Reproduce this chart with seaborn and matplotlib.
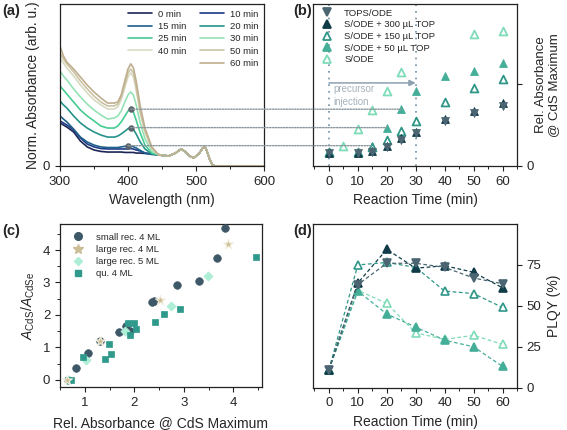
import numpy as np
import pandas as pd
import matplotlib.pyplot as plt
import seaborn as sns
from matplotlib.patches import ConnectionPatch
from matplotlib.ticker import MultipleLocator
from matplotlib.lines import Line2D

sns.set_style('ticks')
plt.rcParams['font.family'] = ['Liberation Sans', 'DejaVu Sans']
plt.rcParams['mathtext.fontset'] = 'custom'
plt.rcParams['mathtext.rm'] = 'Liberation Sans'
plt.rcParams['mathtext.it'] = 'Liberation Sans:italic'

# ---------------- data: (a) absorption spectra ----------------
wl_uv = [300, 305, 310, 320, 330, 340, 350, 360, 370, 380, 385, 390, 396, 400, 404, 408, 412, 418, 425, 435, 445]
wl_tail = [452, 460, 470, 478, 485, 490, 497, 505, 510, 513, 516, 520, 524, 528, 600]
cdse_tail = [0.51, 0.49, 0.63, 0.83, 0.68, 0.49, 0.39, 0.63, 0.88, 0.94, 0.73, 0.34, 0.05, 0.0, 0.0]

abs_0 = [2.10, 2.00, 1.90, 1.66, 1.22, 0.93, 0.78, 0.71, 0.68, 0.68, 0.68, 0.68, 0.66, 0.66, 0.66, 0.66, 0.63, 0.63, 0.61, 0.59, 0.56]
abs_10 = [2.20, 2.10, 2.00, 1.76, 1.37, 1.07, 0.93, 0.85, 0.83, 0.83, 0.83, 0.83, 0.83, 0.83, 0.85, 0.83, 0.78, 0.73, 0.63, 0.59, 0.54]
abs_15 = [2.44, 2.29, 2.15, 1.80, 1.41, 1.17, 1.02, 0.93, 0.90, 0.90, 0.90, 0.93, 0.96, 0.98, 0.98, 0.94, 0.88, 0.76, 0.63, 0.56, 0.54]
abs_20 = [3.17, 2.98, 2.83, 2.44, 2.10, 1.85, 1.66, 1.51, 1.41, 1.41, 1.46, 1.56, 1.71, 1.82, 1.86, 1.78, 1.56, 1.17, 0.83, 0.59, 0.54]
abs_25 = [3.90, 3.71, 3.51, 3.12, 2.73, 2.44, 2.20, 1.95, 1.85, 1.85, 1.95, 2.15, 2.46, 2.68, 2.76, 2.62, 2.24, 1.61, 1.02, 0.63, 0.54]
abs_30 = [4.63, 4.39, 4.20, 3.76, 3.37, 3.02, 2.73, 2.49, 2.29, 2.34, 2.44, 2.68, 3.17, 3.46, 3.61, 3.46, 2.98, 2.10, 1.32, 0.73, 0.54]
abs_40 = [5.27, 5.02, 4.78, 4.39, 3.95, 3.56, 3.22, 2.98, 2.78, 2.78, 2.88, 3.22, 3.90, 4.34, 4.54, 4.34, 3.71, 2.59, 1.61, 0.83, 0.54]
abs_50 = [5.51, 5.22, 4.98, 4.59, 4.15, 3.76, 3.41, 3.12, 2.93, 2.93, 3.02, 3.37, 4.05, 4.54, 4.73, 4.54, 3.85, 2.68, 1.71, 0.88, 0.54]
abs_60 = [5.85, 5.37, 5.07, 4.73, 4.34, 3.95, 3.61, 3.32, 3.07, 3.07, 3.12, 3.46, 4.24, 4.73, 4.98, 4.78, 4.15, 2.93, 1.85, 0.93, 0.54]

spec_labels = ['0 min', '10 min', '15 min', '20 min', '25 min', '30 min', '40 min', '50 min', '60 min']
spec_colors = ['#1b2455', '#1d3a86', '#1f5f8c', '#25938a', '#45cc93', '#95e2b4', '#d8dbc2', '#cbc3a4', '#bfae8e']
spectra = [abs_0, abs_10, abs_15, abs_20, abs_25, abs_30, abs_40, abs_50, abs_60]

# ---------------- data: (b) rel. absorbance vs time ----------------
t_sode = [0, 5, 10, 15, 20, 25, 50, 60]
rel_sode = [0.67, 0.98, 1.80, 2.72, 3.67, 4.60, 6.44, 6.57]
t_top = [0, 10, 15, 20, 25, 30, 40, 50, 60]
rel_top50 = [0.67, 0.67, 0.99, 1.87, 2.77, 3.67, 4.38, 4.63, 5.01]
rel_top150 = [0.67, 0.67, 0.94, 1.27, 1.71, 2.21, 3.12, 3.79, 4.26]
rel_top300 = [0.62, 0.62, 0.75, 0.99, 1.35, 1.66, 2.28, 2.68, 3.06]
rel_tops = [0.62, 0.62, 0.70, 0.94, 1.27, 1.60, 2.21, 2.57, 2.93]

# ---------------- data: (c) A_CdS/A_CdSe ----------------
small4_x = [0.66, 0.82, 1.06, 1.30, 1.69, 1.83, 1.91, 2.35, 2.40, 2.86, 3.31, 3.67, 3.83]
small4_y = [0.00, 0.37, 0.84, 1.20, 1.47, 1.65, 1.52, 2.39, 2.42, 2.92, 3.06, 3.76, 4.68]
large4_x = [0.65, 1.30, 2.52, 3.90]
large4_y = [0.00, 1.20, 2.46, 4.18]
large5_x = [0.68, 1.03, 1.82, 2.74, 3.48]
large5_y = [0.00, 0.60, 1.52, 2.29, 3.20]
qu4_x = [0.66, 0.73, 0.97, 1.40, 1.49, 1.53, 1.88, 1.99, 1.91, 2.03, 2.41, 2.61, 2.93, 4.45]
qu4_y = [0.00, 0.00, 0.69, 0.63, 1.11, 0.80, 1.75, 1.75, 1.39, 1.58, 1.78, 2.02, 2.18, 3.79]

# ---------------- data: (d) PLQY ----------------
t_plqy = [0, 10, 20, 30, 40, 50, 60]
plqy_tops = [11, 63, 76, 76, 73.5, 67, 63.5]
plqy_top300 = [11, 64, 84.5, 73, 74.5, 70.5, 61]
plqy_top150 = [11, 75, 76.5, 73.5, 59, 57.5, 49]
plqy_top50 = [11, 59, 45, 37, 29, 25, 13]
plqy_sode = [11, 59.5, 51.5, 33.5, 29.5, 32, 26.5]

series_names = ['TOPS/ODE', 'S/ODE + 300 µL TOP', 'S/ODE + 150 µL TOP', 'S/ODE + 50 µL TOP', 'S/ODE']
series_colors = ['#4b6672', '#0f3c48', '#2f9688', '#45ae99', '#7fdcb8']
series_markers = ['v', '^', '^', '^', '^']
series_open = [False, False, True, False, True]

# ---------------- figure ----------------
fig = plt.figure(figsize=(5.67, 4.30), dpi=100)
ax_a = fig.add_axes([0.1058, 0.614, 0.3598, 0.3767])
ax_b = fig.add_axes([0.552, 0.614, 0.3598, 0.3767])
ax_c = fig.add_axes([0.1058, 0.10, 0.3563, 0.379])
ax_d = fig.add_axes([0.552, 0.0984, 0.3598, 0.3807])

tick_fs = 9.5
lab_fs = 10
leg_fs = 6.8

for ax in (ax_a, ax_b, ax_c, ax_d):
    for s in ax.spines.values():
        s.set_linewidth(0.9)
        s.set_color('#222222')
        s.set_visible(True)
    ax.tick_params(which='major', direction='out', length=3.5, width=0.8, labelsize=tick_fs, color='#222222')
    ax.tick_params(which='minor', direction='out', length=2, width=0.7, color='#222222')

# (a)
for lab, col, uv in zip(spec_labels, spec_colors, spectra):
    sns.lineplot(x=wl_uv + wl_tail, y=uv + cdse_tail, color=col, lw=1.2, ax=ax_a, legend=False)
ax_a.set_xlim(300, 600)
ax_a.set_ylim(0, 7.9)
ax_a.xaxis.set_major_locator(MultipleLocator(100))
ax_a.xaxis.set_minor_locator(MultipleLocator(50))
ax_a.set_yticks([0])
ax_a.set_xlabel('Wavelength (nm)', fontsize=lab_fs)
ax_a.set_ylabel('Norm. Absorbance (arb. u.)', fontsize=lab_fs, labelpad=2)

# (b)
plot_sets = [(t_top, rel_tops), (t_top, rel_top300), (t_top, rel_top150), (t_top, rel_top50), (t_sode, rel_sode)]
for i in [4, 3, 2, 1, 0]:
    tx, ry = plot_sets[i]
    c = series_colors[i]
    if series_open[i]:
        sns.scatterplot(x=tx, y=ry, marker=series_markers[i], s=32, color='white', edgecolor=c,
                        linewidth=1.3, ax=ax_b, zorder=3, legend=False)
    else:
        sns.scatterplot(x=tx, y=ry, marker=series_markers[i], s=32, color=c, edgecolor=c,
                        linewidth=0.6, ax=ax_b, zorder=3, legend=False)
b_handles = []
for i in range(5):
    c = series_colors[i]
    fc = 'white' if series_open[i] else c
    b_handles.append(Line2D([], [], ls='none', marker=series_markers[i], markersize=5.5,
                            markerfacecolor=fc, markeredgecolor=c, markeredgewidth=1.3))
ax_b.legend(b_handles, series_names, loc='upper left', frameon=False, fontsize=leg_fs,
            handletextpad=0.8, labelspacing=0.28, borderaxespad=0.3, borderpad=0.2)
ax_b.axvline(0, color='#6f8fa6', lw=1.2, ls=(0, (1, 3)), zorder=1)
ax_b.axvline(30, color='#6f8fa6', lw=1.2, ls=(0, (1, 3)), zorder=1)
ax_b.annotate('', xy=(30, 4.05), xytext=(0, 4.05),
              arrowprops=dict(arrowstyle='-|>', color='#8ba1b1', lw=1.1, mutation_scale=9,
                              shrinkA=0, shrinkB=0))
ax_b.text(1.5, 3.98, 'precursor\ninjection', color='#a6b2bb', fontsize=7, ha='left', va='top',
          linespacing=1.3)
ax_b.set_xlim(-5.5, 65)
ax_b.set_ylim(0, 7.9)
ax_b.xaxis.set_major_locator(MultipleLocator(10))
ax_b.xaxis.set_minor_locator(MultipleLocator(5))
ax_b.set_yticks([0, 4])
ax_b.set_yticklabels(['0', ''])
ax_b.yaxis.tick_right()
ax_b.yaxis.set_label_position('right')
ax_b.set_xlabel('Reaction Time (min)', fontsize=lab_fs)
ax_b.set_ylabel('Rel. Absorbance\n@ CdS Maximum', fontsize=9.5, labelpad=1, linespacing=1.05)

# dots in (a) + dotted connectors to (b), drawn above the axes backgrounds
dot_wl = [400, 404, 404]
dot_t = [15, 20, 25]
dot_val = [rel_top50[2], rel_top50[3], rel_top50[4]]
sns.scatterplot(x=dot_wl, y=dot_val, color='#5b646a', s=18, edgecolor='#5b646a', ax=ax_a,
                zorder=5, legend=False)
for w, t, v in zip(dot_wl, dot_t, dot_val):
    con = ConnectionPatch(xyA=(w, v), coordsA=ax_a.transData, xyB=(t, v), coordsB=ax_b.transData,
                          color='#8a979e', lw=1.0, ls=(0, (1, 1)), zorder=2)
    fig.add_artist(con)

# legend of (a): 2 columns, last row only in right column
handles = [Line2D([], [], color=c, lw=1.2) for c in spec_colors]
blank = Line2D([], [], color='none')
order_h = [handles[0], handles[2], handles[4], handles[6], blank,
           handles[1], handles[3], handles[5], handles[7], handles[8]]
order_l = ['0 min', '15 min', '25 min', '40 min', '',
           '10 min', '20 min', '30 min', '50 min', '60 min']
ax_a.legend(order_h, order_l, ncol=2, loc='upper right', frameon=False, fontsize=leg_fs,
            handlelength=2.6, handletextpad=0.6, columnspacing=1.4, labelspacing=0.35,
            borderaxespad=0.2)

# (c)
sns.scatterplot(x=small4_x, y=small4_y, marker='o', s=30, color='#3e5868', edgecolor='#3e5868',
                linewidth=0.5, ax=ax_c, zorder=3, legend=False)
sns.scatterplot(x=large4_x, y=large4_y, marker='*', s=55, color='#cbbd94', edgecolor='#f3efe0',
                linewidth=0.8, ax=ax_c, zorder=4, legend=False)
sns.scatterplot(x=large5_x, y=large5_y, marker='D', s=22, color='#aeeed6', edgecolor='#aeeed6',
                linewidth=0.5, ax=ax_c, zorder=3, legend=False)
sns.scatterplot(x=qu4_x, y=qu4_y, marker='s', s=24, color='#2f9a8c', edgecolor='#2f9a8c',
                linewidth=0.5, ax=ax_c, zorder=3, legend=False)
c_handles = [
    Line2D([], [], ls='none', marker='o', markersize=5.5, color='#3e5868'),
    Line2D([], [], ls='none', marker='*', markersize=7, color='#cbbd94'),
    Line2D([], [], ls='none', marker='D', markersize=4.5, color='#aeeed6'),
    Line2D([], [], ls='none', marker='s', markersize=4.8, color='#2f9a8c'),
]
ax_c.legend(c_handles, ['small rec. 4 ML', 'large rec. 4 ML', 'large rec. 5 ML', 'qu. 4 ML'],
            loc='upper left', frameon=False, fontsize=leg_fs, handletextpad=0.9,
            labelspacing=0.35, borderaxespad=0.6, borderpad=0.3)
ax_c.set_xlim(0.5, 4.58)
ax_c.set_ylim(-0.22, 4.8)
ax_c.xaxis.set_major_locator(MultipleLocator(1))
ax_c.xaxis.set_minor_locator(MultipleLocator(0.5))
ax_c.yaxis.set_major_locator(MultipleLocator(1))
ax_c.yaxis.set_minor_locator(MultipleLocator(0.5))
ax_c.set_xlabel('Rel. Absorbance @ CdS Maximum', fontsize=lab_fs, labelpad=5)
ax_c.set_ylabel('$\\mathit{A}_\\mathrm{CdS}/\\mathit{A}_\\mathrm{CdSe}$', fontsize=lab_fs, labelpad=4)

# (d)
plqy_sets = [plqy_tops, plqy_top300, plqy_top150, plqy_top50, plqy_sode]
for i in [4, 3, 2, 1, 0]:
    c = series_colors[i]
    fc = 'white' if series_open[i] else c
    sns.lineplot(x=t_plqy, y=plqy_sets[i], color=c, lw=0.9, ls=(0, (3, 2)),
                 marker=series_markers[i], markersize=5.5, markerfacecolor=fc,
                 markeredgecolor=c, markeredgewidth=1.2, ax=ax_d, zorder=3, legend=False)
ax_d.set_xlim(-5.5, 65)
ax_d.set_ylim(0, 100)
ax_d.xaxis.set_major_locator(MultipleLocator(10))
ax_d.xaxis.set_minor_locator(MultipleLocator(5))
ax_d.set_yticks([0, 25, 50, 75])
ax_d.yaxis.tick_right()
ax_d.yaxis.set_label_position('right')
ax_d.set_xlabel('Reaction Time (min)', fontsize=lab_fs)
ax_d.set_ylabel('PLQY (%)', fontsize=lab_fs, labelpad=4)

# panel labels
for txt, x, y in [('(a)', 0.004, 0.975), ('(b)', 0.517, 0.975), ('(c)', 0.004, 0.462), ('(d)', 0.517, 0.462)]:
    fig.text(x, y, txt, fontsize=10.5, fontweight='bold', va='center', ha='left')

fig.savefig('out.png', dpi=100)
